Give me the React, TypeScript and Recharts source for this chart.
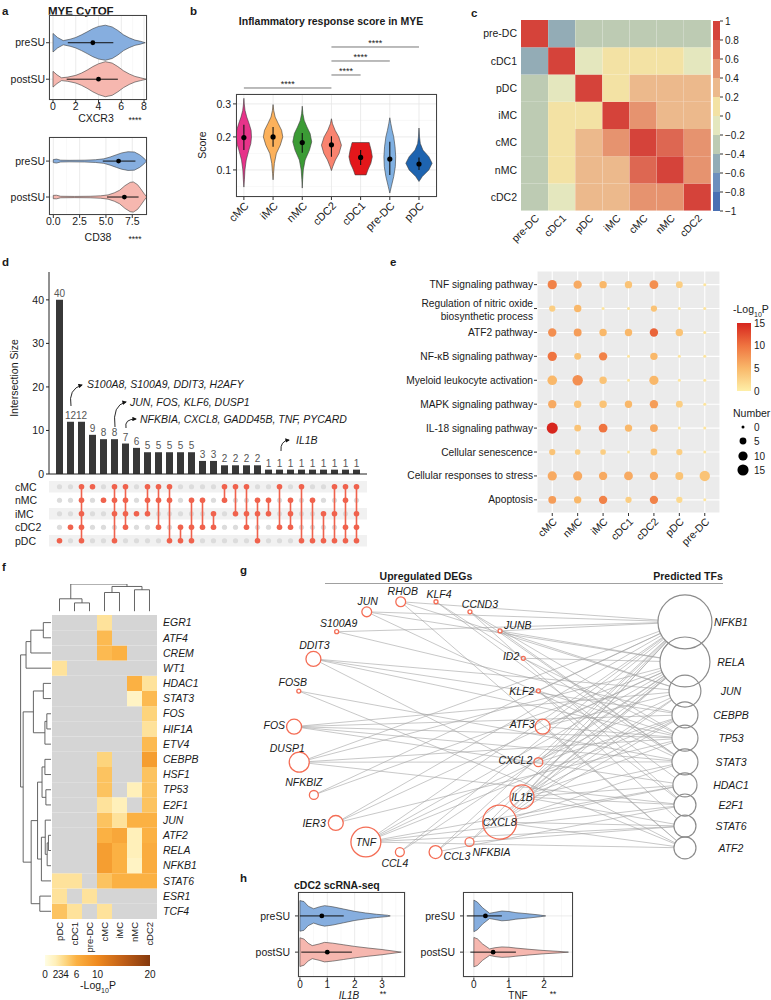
import React from "react";
import {
  Bar, BarChart, CartesianGrid, Cell, LabelList, ReferenceDot, ReferenceLine,
  Scatter, ScatterChart, XAxis, YAxis,
} from "recharts";

const FONT = '"Liberation Sans", Arial, Helvetica, sans-serif';
const INK = "#1a1a1a";
const BLUE = "#86AEDF";
const PINK = "#F6B7AF";

// ---------- a: MYE CyTOF (outline = [value, relative density]) ----------
const suGroups = ["postSU", "preSU"];
const cxcr3Ticks = [0, 2, 4, 6, 8];
const cxcr3Minor = [1, 3, 5, 7];
const cxcr3Pre = [[0, 0.53], [0.4, 0.3], [0.9, 0.12], [1.5, 0.2], [2, 0.3], [2.5, 0.45], [3, 0.62], [3.5, 0.8], [4, 0.93], [4.6, 1], [5.2, 0.9], [5.7, 0.7], [6.2, 0.45], [6.7, 0.28], [7.2, 0.15], [7.7, 0.08], [8.1, 0]];
const cxcr3Post = [[0, 0.45], [0.35, 0.25], [0.75, 0.08], [1.3, 0.12], [2, 0.22], [2.5, 0.35], [3, 0.52], [3.5, 0.72], [4, 0.88], [4.6, 1], [5.2, 0.92], [5.7, 0.72], [6.2, 0.48], [6.7, 0.3], [7.2, 0.16], [7.7, 0.08], [8.2, 0]];
const cxcr3Median = [4.0, 3.5];
const cxcr3Iqr = [[1.2, 5.7], [1.3, 5.3]];
const cd38Ticks = [0, 2.5, 5, 7.5];
const cd38Minor = [1.25, 3.75, 6.25];
const cd38Pre = [[0, 0.1], [0.3, 0.13], [0.7, 0.06], [1.5, 0.05], [3, 0.06], [4, 0.09], [4.8, 0.15], [5.4, 0.27], [6, 0.42], [6.5, 0.54], [7.1, 0.62], [7.7, 0.6], [8.2, 0.42], [8.6, 0.2], [8.85, 0]];
const cd38Post = [[0, 0.11], [0.3, 0.12], [0.7, 0.05], [2, 0.04], [3.5, 0.05], [4.5, 0.08], [5.2, 0.14], [5.8, 0.28], [6.3, 0.45], [6.8, 0.75], [7.3, 0.97], [7.6, 1], [8, 0.82], [8.3, 0.55], [8.6, 0.25], [8.88, 0]];
const cd38Median = [6.75, 6.2];
const cd38Iqr = [[5.1, 8.1], [4.7, 7.8]];

// ---------- b: inflammatory response score ----------
const scoreCells = ["cMC", "iMC", "nMC", "cDC2", "cDC1", "pre-DC", "pDC"];
const scoreColors = ["#E7338A", "#FCB15B", "#3B9B35", "#F9836F", "#E3171B", "#80B1E3", "#1E64B0"];
const scoreDens = [
  [[0.048, 0], [0.07, 0.04], [0.1, 0.08], [0.13, 0.18], [0.16, 0.38], [0.18, 0.53], [0.2, 0.58], [0.22, 0.55], [0.24, 0.4], [0.26, 0.22], [0.28, 0.09], [0.3, 0.03], [0.317, 0]],
  [[0.07, 0], [0.09, 0.04], [0.12, 0.1], [0.15, 0.25], [0.175, 0.55], [0.2, 0.74], [0.22, 0.65], [0.24, 0.4], [0.26, 0.16], [0.28, 0.05], [0.298, 0]],
  [[0.045, 0], [0.07, 0.03], [0.1, 0.08], [0.13, 0.22], [0.16, 0.55], [0.185, 0.72], [0.21, 0.6], [0.23, 0.36], [0.25, 0.15], [0.27, 0.05], [0.293, 0]],
  [[0.098, 0], [0.11, 0.1], [0.13, 0.3], [0.15, 0.58], [0.175, 0.76], [0.2, 0.56], [0.22, 0.28], [0.24, 0.08], [0.255, 0]],
  [[0.085, 0.42], [0.1, 0.55], [0.12, 0.78], [0.14, 0.89], [0.16, 0.8], [0.175, 0.7], [0.183, 0.65]],
  [[0.03, 0], [0.05, 0.12], [0.08, 0.3], [0.11, 0.42], [0.14, 0.45], [0.17, 0.4], [0.2, 0.3], [0.22, 0.18], [0.24, 0.08], [0.258, 0]],
  [[0.065, 0], [0.08, 0.25], [0.1, 0.75], [0.12, 1], [0.14, 0.75], [0.16, 0.3], [0.18, 0.1], [0.2, 0.04], [0.227, 0]],
];
const scoreMedian = [0.198, 0.2, 0.183, 0.176, 0.138, 0.133, 0.118];
const scoreIqr = [[0.16, 0.237], [0.17, 0.23], [0.152, 0.212], [0.14, 0.202], [0.115, 0.16], [0.085, 0.185], [0.1, 0.138]];
const scoreTicks = [0.1, 0.2, 0.3];
const scoreMinor = [0.05, 0.15, 0.25];
const scoreSig = [[0, 3, 0.3482], [3, 4, 0.3876], [3, 5, 0.43], [3, 6, 0.4724]];

// ---------- c: correlation ----------
const corrNames = ["pre-DC", "cDC1", "pDC", "iMC", "cMC", "nMC", "cDC2"];
const corr = [
  [1, -0.5, -0.3, -0.3, -0.3, -0.3, -0.3],
  [-0.5, 1, -0.1, 0.1, 0.1, 0.1, -0.1],
  [-0.3, -0.1, 1, 0.1, 0.3, 0.3, 0.3],
  [-0.3, 0.1, 0.1, 1, 0.5, 0.3, 0.3],
  [-0.3, 0.1, 0.3, 0.5, 1, 0.7, 0.5],
  [-0.3, 0.1, 0.3, 0.3, 0.7, 1, 0.5],
  [-0.3, -0.1, 0.3, 0.3, 0.5, 0.5, 1],
];
const corrTicks = [-1, -0.8, -0.6, -0.4, -0.2, 0, 0.2, 0.4, 0.6, 0.8, 1];
const corrBins = ["#4A70B3", "#6D8FBD", "#93ACB6", "#BDCBB3", "#E4E7BE", "#F3E2A4", "#ECB98C", "#E6936F", "#DD6752", "#D5433A"];

// ---------- d: upset ----------
const setNames = ["cMC", "nMC", "iMC", "cDC2", "pDC"];
const interSizes = [40, 12, 12, 9, 8, 8, 7, 6, 5, 5, 5, 5, 5, 3, 3, 2, 2, 2, 2, 1, 1, 1, 1, 1, 1, 1, 1, 1];
const interSets = [
  ["pDC"], ["cDC2"], ["cMC", "nMC", "iMC", "cDC2", "pDC"], ["cMC"], ["nMC"], ["cMC", "nMC", "iMC", "pDC"],
  ["cMC", "nMC", "iMC", "cDC2"], ["iMC"], ["cMC", "nMC", "iMC"], ["cMC", "nMC", "cDC2"], ["cMC", "nMC", "pDC"],
  ["cDC2", "pDC"], ["nMC", "cDC2", "pDC"], ["nMC", "cDC2"], ["iMC", "cDC2"], ["cMC", "nMC"], ["cMC", "iMC"],
  ["cMC", "iMC", "cDC2"], ["nMC", "iMC", "pDC"], ["nMC", "iMC"], ["cMC", "cDC2"], ["nMC", "iMC", "cDC2"],
  ["cMC", "pDC"], ["nMC", "pDC"], ["iMC", "pDC"], ["cMC", "iMC", "pDC"], ["cMC", "nMC", "cDC2", "pDC"], ["cMC", "iMC", "cDC2", "pDC"],
];
const geneNotes = [
  { text: "S100A8, S100A9, DDIT3, H2AFY", x: 87, y: 384 },
  { text: "JUN, FOS, KLF6, DUSP1", x: 130, y: 402 },
  { text: "NFKBIA, CXCL8, GADD45B, TNF, PYCARD", x: 140, y: 419 },
  { text: "IL1B", x: 296, y: 440 },
];

// ---------- e: enrichment ----------
const pathways = ["TNF signaling pathway", "Regulation of nitric oxide\nbiosynthetic process", "ATF2 pathway", "NF-κB signaling pathway", "Myeloid leukocyte activation", "MAPK signaling pathway", "IL-18 signaling pathway", "Cellular senescence", "Cellular responses to stress", "Apoptosis"];
const enrichCells = ["cMC", "nMC", "iMC", "cDC1", "cDC2", "pDC", "pre-DC"];
const enrichLogP = [
  [9, 6, 5, 4, 8, 3, 1], [3, 5, 1, 1, 4, 1, 1], [8, 7, 5, 5, 11, 4, 1], [10, 4, 9, 1, 5, 1, 1], [5, 8, 4, 1, 5, 1, 1],
  [6, 4, 4, 5, 7, 3, 1], [15, 4, 10, 5, 6, 1, 1], [4, 3, 3, 1, 4, 3, 1], [6, 6, 6, 6, 6, 4, 4], [7, 5, 9, 3, 9, 2, 1],
];
const enrichNum = [
  [10, 8, 6, 6, 9, 5, 0], [4, 6, 0, 0, 4, 0, 0], [8, 7, 6, 6, 8, 6, 0], [10, 5, 8, 0, 6, 0, 0], [11, 13, 6, 0, 10, 0, 0],
  [8, 6, 6, 6, 8, 5, 0], [15, 5, 9, 6, 7, 0, 0], [4, 3, 3, 0, 5, 4, 0], [10, 10, 8, 9, 8, 7, 13], [7, 6, 8, 4, 8, 4, 0],
];
const enrichStops: [number, string][] = [[0, "#FEEFA8"], [5, "#F9B86A"], [10, "#EF7440"], [15, "#D7261E"]];
const enrichLegendTicks = [0, 5, 10, 15];

// ---------- f: TF heatmap ----------
const tfRows = ["EGR1", "ATF4", "CREM", "WT1", "HDAC1", "STAT3", "FOS", "HIF1A", "ETV4", "CEBPB", "HSF1", "TP53", "E2F1", "JUN", "ATF2", "RELA", "NFKB1", "STAT6", "ESR1", "TCF4"];
const tfCols = ["pDC", "cDC1", "pre-DC", "cMC", "iMC", "nMC", "cDC2"];
const N = null;
const tfLogP = [
  [N, N, N, 3, N, N, N], [N, N, N, 5.5, N, N, N], [N, N, N, 5.5, 6, N, N], [3, N, N, N, N, N, N],
  [N, N, N, N, N, 6, 3], [N, N, N, N, N, 1.5, 5.5], [N, N, N, N, N, N, 4], [N, N, N, N, N, N, 3],
  [N, N, N, N, N, N, 5.5], [N, N, N, 4, N, N, 8], [N, N, N, 5, N, N, 5], [N, N, N, 5, N, 2, 5],
  [N, N, N, 3, 2, N, 5], [N, N, N, 5, 3, 6, 6], [N, N, N, 6, 7, 2, 6], [N, N, N, 8, 6, 2, 6.5],
  [N, N, N, 8, 6, 1.5, 6.5], [3, 3, N, 5, 6, 6, 6], [3, N, 3, N, N, N, N], [5, 3, N, 3, N, N, N],
];
const tfStops: [number, string][] = [[0, "#FFFDE3"], [2, "#FFF0BA"], [4, "#FDD47C"], [6, "#FBB143"], [10, "#EF8A1F"], [15, "#BF5E17"], [20, "#85390D"]];
const tfLegendTicks = [0, 2, 3, 4, 6, 10, 20];
const colMerges = [[1, 2, 0.31], [0, 7, 0.46], [3, 4, 0.69], [5, 6, 0.79], [9, 10, 0.91], [8, 11, 1.0]];
const rowMerges = [
  [0, 1, 0.24], [20, 2, 0.63], [21, 3, 0.78], [4, 5, 0.24], [6, 7, 0.13], [24, 8, 0.19], [23, 25, 0.55],
  [9, 10, 0.19], [11, 12, 0.16], [27, 28, 0.28], [14, 15, 0.08], [30, 16, 0.12], [13, 31, 0.18], [32, 17, 0.3],
  [29, 33, 0.42], [18, 19, 0.35], [34, 35, 0.62], [26, 36, 0.87], [22, 37, 0.95],
];

// ---------- g: network (layout units 0-100) ----------
const degNodes = [
  { id: "JUN", x: 22.5, y: 7.8, w: 6 }, { id: "RHOB", x: 30.4, y: 4.2, w: 6 }, { id: "KLF4", x: 38.6, y: 4.2, w: 1 },
  { id: "CCND3", x: 46.5, y: 7.8, w: 1 }, { id: "S100A9", x: 15.5, y: 14.9, w: 1 }, { id: "JUNB", x: 53.5, y: 14.6, w: 1 },
  { id: "DDIT3", x: 10.1, y: 24.6, w: 14 }, { id: "ID2", x: 58.9, y: 24.4, w: 1 }, { id: "FOSB", x: 6.7, y: 36.1, w: 1 },
  { id: "KLF2", x: 62.4, y: 36.0, w: 1 }, { id: "FOS", x: 5.6, y: 48.8, w: 14 }, { id: "ATF3", x: 63.4, y: 48.8, w: 14 },
  { id: "DUSP1", x: 6.8, y: 61.5, w: 25 }, { id: "CXCL2", x: 62.4, y: 61.5, w: 5 }, { id: "NFKBIZ", x: 10.2, y: 73.2, w: 5 },
  { id: "IL1B", x: 58.6, y: 73.9, w: 36 }, { id: "IER3", x: 15.3, y: 83.2, w: 14 }, { id: "CXCL8", x: 53.4, y: 82.9, w: 72 },
  { id: "TNF", x: 22.3, y: 90.0, w: 56 }, { id: "NFKBIA", x: 46.4, y: 90.0, w: 5 }, { id: "CCL4", x: 30.2, y: 93.6, w: 5 },
  { id: "CCL3", x: 38.5, y: 93.6, w: 10.5 },
];
const tfNodes = [
  { id: "NFKB1", x: 96.5, y: 11.4, w: 63 }, { id: "RELA", x: 96.5, y: 25.7, w: 54 }, { id: "JUN", x: 96.5, y: 36.1, w: 22 },
  { id: "CEBPB", x: 96.5, y: 44.6, w: 14.6 }, { id: "TP53", x: 96.5, y: 52.9, w: 14.6 }, { id: "STAT3", x: 96.5, y: 61.4, w: 14.6 },
  { id: "HDAC1", x: 96.5, y: 69.6, w: 12.5 }, { id: "E2F1", x: 96.5, y: 76.8, w: 10.5 }, { id: "STAT6", x: 96.5, y: 84.3, w: 10.5 },
  { id: "ATF2", x: 96.5, y: 92.1, w: 10.5 },
];
const gEdges: Record<string, string[]> = {
  JUN: ["NFKB1", "RELA", "STAT3"], RHOB: ["NFKB1", "JUN", "ATF2"], KLF4: ["STAT3", "HDAC1"], CCND3: ["E2F1", "STAT3", "TP53"],
  S100A9: ["NFKB1", "CEBPB"], JUNB: ["NFKB1", "RELA", "JUN", "STAT3"], DDIT3: ["CEBPB", "TP53", "ATF2", "JUN"], ID2: ["TP53", "RELA"],
  FOSB: ["ATF2", "STAT3"], KLF2: ["NFKB1", "TP53", "E2F1", "STAT6"], FOS: ["JUN", "TP53", "STAT3", "HDAC1", "CEBPB"],
  ATF3: ["NFKB1", "RELA", "ATF2", "TP53", "JUN"], DUSP1: ["NFKB1", "RELA", "TP53", "STAT3", "E2F1"], CXCL2: ["NFKB1", "RELA", "CEBPB"],
  NFKBIZ: ["NFKB1", "RELA"], IL1B: ["NFKB1", "RELA", "JUN", "CEBPB", "TP53", "STAT3", "HDAC1", "E2F1", "STAT6"],
  IER3: ["NFKB1", "RELA", "TP53"], CXCL8: ["NFKB1", "RELA", "JUN", "CEBPB", "STAT3", "HDAC1", "STAT6", "ATF2"],
  TNF: ["NFKB1", "RELA", "JUN", "CEBPB", "STAT6", "ATF2", "HDAC1", "E2F1"], CCL4: ["NFKB1", "RELA"], CCL3: ["NFKB1", "RELA", "E2F1"],
  NFKBIA: ["NFKB1", "RELA", "STAT6"],
};
// label placement (dx, dy, anchor) in px
const gLabel: Record<string, [number, number, string]> = {
  JUN: [1, -11, "middle"], RHOB: [2, -11, "middle"], KLF4: [3, -8, "middle"], CCND3: [10, -8, "middle"], S100A9: [2, -9, "middle"],
  JUNB: [4, -6, "start"], DDIT3: [1, -14, "middle"], ID2: [-4, -2, "end"], FOSB: [-6, -9, "middle"], KLF2: [-4, 0, "end"],
  FOS: [-9, -2, "end"], ATF3: [-8, -3, "end"], DUSP1: [-12, -14, "middle"], CXCL2: [-6, -2, "end"], NFKBIZ: [-10, -13, "middle"],
  IL1B: [0, 0, "middle"], IER3: [-10, 0, "end"], CXCL8: [0, 0, "middle"], TNF: [0, 0, "middle"], CCL4: [-5, 11, "middle"],
  CCL3: [8, 4, "start"], NFKBIA: [3, 10, "start"],
};

// ---------- h: cDC2 scRNA-seq ----------
const il1bPre = [[0, 0.94], [0.15, 0.88], [0.3, 0.6], [0.5, 0.44], [0.7, 0.55], [0.9, 0.63], [1.2, 0.56], [1.6, 0.42], [2, 0.28], [2.4, 0.18], [2.8, 0.1], [3.2, 0.04], [3.3, 0]];
const il1bPost = [[0, 0.88], [0.15, 0.8], [0.3, 0.55], [0.45, 0.4], [0.7, 0.5], [0.9, 0.6], [1.2, 0.55], [1.6, 0.45], [2, 0.35], [2.5, 0.25], [3, 0.16], [3.4, 0.07], [3.7, 0]];
const il1bMedian = [1.0, 0.8];
const il1bIqr = [[0.05, 1.9], [0, 1.6]];
const tnfPre = [[0, 0.97], [0.1, 0.85], [0.25, 0.5], [0.45, 0.16], [0.6, 0.22], [0.8, 0.3], [1.0, 0.27], [1.2, 0.2], [1.6, 0.12], [1.9, 0.05], [2.05, 0]];
const tnfPost = [[0, 0.9], [0.1, 0.82], [0.25, 0.5], [0.45, 0.2], [0.6, 0.27], [0.8, 0.32], [1.0, 0.3], [1.2, 0.25], [1.6, 0.17], [2.0, 0.1], [2.4, 0.05], [2.7, 0]];
const tnfMedian = [0.55, 0.33];
const tnfIqr = [[-0.1, 1.2], [-0.2, 0.8]];

// ---------- helpers ----------
type Pt = { x: number; y: number };
const Empty = () => <g />;
const pathOf = (pts: Pt[]) => pts.map((p, i) => `${i ? "L" : "M"}${p.x},${p.y}`).join("") + "Z";
const segsOf = (pts: Pt[]) => {
  let d = "";
  for (let i = 0; i + 1 < pts.length; i += 2) d += `M${pts[i].x},${pts[i].y}L${pts[i + 1].x},${pts[i + 1].y}`;
  return d;
};
const polyLine = (fill: string, stroke = "#3c3c3c", sw = 0.6) => (lp: any) => (
  <path d={pathOf(lp.points)} fill={fill} stroke={stroke} strokeWidth={sw} strokeLinejoin="round" />
);
const segLine = (stroke: string, sw: number) => (lp: any) => <path d={segsOf(lp.points)} fill="none" stroke={stroke} strokeWidth={sw} />;
const dotShape = (r: number, fill: string) => (p: any) => <circle cx={p.cx} cy={p.cy} r={r} fill={fill} />;
const hexRgb = (h: string) => [1, 3, 5].map((i) => parseInt(h.slice(i, i + 2), 16));
function ramp(stops: [number, string][], v: number) {
  if (v <= stops[0][0]) return stops[0][1];
  for (let i = 1; i < stops.length; i++) {
    if (v <= stops[i][0]) {
      const t = (v - stops[i - 1][0]) / (stops[i][0] - stops[i - 1][0]);
      const a = hexRgb(stops[i - 1][1]), b = hexRgb(stops[i][1]);
      return `rgb(${a.map((c, j) => Math.round(c + (b[j] - c) * t)).join(",")})`;
    }
  }
  return stops[stops.length - 1][1];
}
const corrColor = (v: number) => corrBins[Math.max(0, Math.min(9, Math.floor((v + 1) / 0.2 + 1e-9)))];
const fmtCorr = (v: number) => {
  const r = Math.round((v - 1) * 10) / 10;
  return r < 0 ? "\u2212" + Math.abs(r) : String(r);
};
function hOutline(dens: number[][], g: number, k: number): Pt[] {
  const top = dens.map(([v, d]) => ({ x: v, y: g + d * k }));
  const bot = dens.map(([v, d]) => ({ x: v, y: g - d * k })).reverse();
  return [...top, ...bot];
}
function vOutline(dens: number[][], c: number, k: number): Pt[] {
  const right = dens.map(([v, d]) => ({ x: c + d * k, y: v }));
  const left = dens.map(([v, d]) => ({ x: c - d * k, y: v })).reverse();
  return [...right, ...left];
}
function dendroSegs(merges: number[][], n: number, horiz: boolean): Pt[] {
  const pos: number[] = Array.from({ length: n }, (_, i) => i);
  const ht: number[] = Array(n).fill(0);
  const P = (p: number, h: number) => (horiz ? { x: h, y: p } : { x: p, y: h });
  const pts: Pt[] = [];
  merges.forEach(([a, b, h]) => {
    pts.push(P(pos[a], ht[a]), P(pos[a], h), P(pos[b], ht[b]), P(pos[b], h), P(pos[a], h), P(pos[b], h));
    pos.push((pos[a] + pos[b]) / 2);
    ht.push(h);
  });
  return pts;
}
const RotTick = (p: any) => {
  const label = p.labels ? p.labels[p.payload.value] : p.payload.value;
  return (
    <text x={p.x} y={p.y} dy="0.71em" textAnchor="end" fontSize={p.fs || 10.5} fill={INK} transform={`rotate(-45 ${p.x} ${p.y})`}>
      {label}
    </text>
  );
};

function T({ x, y, children, size = 10.5, bold = false, italic = false, anchor = "start", rotate = 0, color = INK }: any) {
  const tx = anchor === "middle" ? "-50%" : anchor === "end" ? "-100%" : "0";
  return (
    <div style={{
      position: "absolute", left: x, top: y, transform: `translate(${tx}, -50%)${rotate ? ` rotate(${rotate}deg)` : ""}`,
      fontSize: size, fontWeight: bold ? 700 : 400, fontStyle: italic ? "italic" : "normal", color, whiteSpace: "nowrap", lineHeight: 1,
    }}>{children}</div>
  );
}
const Frame = ({ left, top, w, h, color = "#444" }: any) => (
  <div style={{ position: "absolute", left, top, width: w, height: h, border: `1px solid ${color}`, boxSizing: "border-box", pointerEvents: "none" }} />
);

// ---------- horizontal violin panels (a, h) ----------
function HViolins(p: any) {
  const mt = 2, mr = 2, xh = 16;
  return (
    <div style={{ position: "absolute", left: p.x0 - p.axisW, top: p.y0 - mt }}>
      <ScatterChart width={p.axisW + p.w + mr} height={mt + p.h + xh} margin={{ top: mt, right: mr, bottom: 0, left: 0 }}>
        <XAxis xAxisId="minor" type="number" dataKey="x" domain={p.xDomain} ticks={p.xMinor} allowDataOverflow hide />
        <CartesianGrid xAxisId="minor" horizontal={false} stroke="#F3F3F3" strokeWidth={0.6} />
        <CartesianGrid stroke="#E6E6E6" strokeWidth={0.8} />
        <XAxis type="number" dataKey="x" domain={p.xDomain} ticks={p.xTicks} interval={0} allowDataOverflow tickFormatter={p.xFmt}
          height={xh} axisLine={false} tickSize={3} tickMargin={0} tickLine={{ stroke: "#333" }} tick={{ fontSize: p.xFs || 10.5, fill: INK }} />
        <YAxis type="number" dataKey="y" domain={p.yDomain} ticks={[1, 2]} interval={0} allowDataOverflow tickFormatter={(v: number) => suGroups[v - 1]}
          width={p.axisW} axisLine={false} tickSize={3} tickMargin={p.tickGap} tickLine={{ stroke: "#333" }} tick={{ fontSize: 10.5, fill: INK }} />
        {p.dens.map((d: number[][], i: number) => (
          <Scatter key={"v" + i} data={hOutline(d, i + 1, p.k)} shape={Empty} line={polyLine([PINK, BLUE][i])} isAnimationActive={false} />
        ))}
        {p.iqr.map(([lo, hi]: number[], i: number) => (
          <Scatter key={"q" + i} data={[{ x: lo, y: i + 1 }, { x: hi, y: i + 1 }]} shape={Empty} line={segLine("#111", 1)} isAnimationActive={false} />
        ))}
        <Scatter data={p.median.map((m: number, i: number) => ({ x: m, y: i + 1 }))} shape={dotShape(2.4, "#000")} isAnimationActive={false} />
      </ScatterChart>
      <Frame left={p.axisW} top={mt} w={p.w} h={p.h} />
    </div>
  );
}

// ---------- b ----------
function ScorePanel() {
  const x0 = 236, y0 = 94, w = 201, h = 103, aw = 30, mt = 59, mr = 5, xh = 42, k = 0.45;
  const xDom = [-0.27, 6.617], yDom = [0.018, 0.33];
  return (
    <div style={{ position: "absolute", left: x0 - aw, top: y0 - mt }}>
      <ScatterChart width={aw + w + mr} height={mt + h + xh} margin={{ top: mt, right: mr, bottom: 0, left: 0 }}>
        <YAxis yAxisId="minor" type="number" dataKey="y" domain={yDom} ticks={scoreMinor} allowDataOverflow hide />
        <CartesianGrid yAxisId="minor" vertical={false} stroke="#F3F3F3" strokeWidth={0.6} />
        <CartesianGrid stroke="#E6E6E6" strokeWidth={0.8} />
        <XAxis type="number" dataKey="x" domain={xDom} ticks={scoreCells.map((_, i) => i)} interval={0} allowDataOverflow height={xh}
          axisLine={false} tickSize={3} tickMargin={1} tickLine={{ stroke: "#333" }} tick={(tp: any) => <RotTick {...tp} labels={scoreCells} fs={11} />} />
        <YAxis type="number" dataKey="y" domain={yDom} ticks={scoreTicks} interval={0} allowDataOverflow width={aw}
          axisLine={false} tickSize={3} tickMargin={2} tickLine={{ stroke: "#333" }} tick={{ fontSize: 10.5, fill: INK }} />
        {scoreDens.map((d, i) => (
          <Scatter key={"v" + i} data={vOutline(d, i, k)} shape={Empty} line={polyLine(scoreColors[i])} isAnimationActive={false} />
        ))}
        <Scatter data={scoreIqr.flatMap(([lo, hi], i) => [{ x: i, y: lo }, { x: i, y: hi }])} shape={Empty} line={segLine("#111", 1.1)} isAnimationActive={false} />
        <Scatter data={scoreMedian.map((m, i) => ({ x: i, y: m }))} shape={dotShape(2.6, "#000")} isAnimationActive={false} />
        {scoreSig.map(([a, b, y], i) => (
          <ReferenceLine key={"s" + i} segment={[{ x: a, y }, { x: b, y }]} stroke="#777" strokeWidth={1} ifOverflow="visible" />
        ))}
        {scoreSig.map(([a, b, y], i) => (
          <ReferenceDot key={"t" + i} x={(a + b) / 2} y={y} r={0} fill="none" stroke="none" ifOverflow="visible"
            label={{ value: "****", position: "top", offset: 1, fontSize: 9, fill: INK }} />
        ))}
      </ScatterChart>
      <Frame left={aw} top={mt} w={w} h={h} />
    </div>
  );
}

// ---------- c ----------
function CorrPanel() {
  const x0 = 520.7, y0 = 20, w = 190, h = 190.7, aw = 40, mt = 2, xh = 40;
  const data = corrNames.map((n) => {
    const o: any = { col: n };
    corrNames.forEach((_, j) => (o["r" + j] = 1));
    return o;
  });
  return (
    <div style={{ position: "absolute", left: x0 - aw, top: y0 - mt }}>
      <BarChart width={aw + w} height={mt + h + xh} data={data} margin={{ top: mt, right: 0, bottom: 0, left: 0 }} barCategoryGap={0} barGap={0}>
        <XAxis dataKey="col" interval={0} height={xh} axisLine={false} tickLine={false} tickSize={0} tickMargin={3}
          tick={(tp: any) => <RotTick {...tp} fs={10.5} />} />
        <YAxis type="number" domain={[0, 7]} allowDataOverflow ticks={corrNames.map((_, j) => j + 0.5)} interval={0} width={aw}
          axisLine={false} tickLine={false} tickSize={0} tickMargin={4} tickFormatter={(v: number) => corrNames[6 - Math.floor(v)]}
          tick={{ fontSize: 10.5, fill: INK }} />
        {corrNames.map((_, j) => (
          <Bar key={j} dataKey={"r" + j} stackId="c" isAnimationActive={false}>
            {corrNames.map((__, ci) => <Cell key={ci} fill={corrColor(corr[6 - j][ci])} />)}
          </Bar>
        ))}
      </BarChart>
    </div>
  );
}
function CorrBar() {
  const x0 = 713.3, y0 = 20.7, w = 7, h = 190, aw = 34, mt = 6;
  const row: any = { k: "cb" };
  corrBins.forEach((_, i) => (row["b" + i] = corrTicks[i + 1] - corrTicks[i]));
  return (
    <div style={{ position: "absolute", left: x0, top: y0 - mt }}>
      <BarChart width={w + aw} height={mt + h + 6} data={[row]} margin={{ top: mt, right: 0, bottom: 6, left: 0 }} barCategoryGap={0}>
        <XAxis dataKey="k" hide />
        <YAxis orientation="right" type="number" domain={[0, 2]} allowDataOverflow ticks={corrTicks.map((t) => t + 1)} interval={0}
          width={aw} axisLine={false} tickSize={3} tickMargin={2} tickLine={{ stroke: "#333" }} tickFormatter={fmtCorr}
          tick={{ fontSize: 10, fill: INK }} />
        {corrBins.map((c, i) => <Bar key={i} dataKey={"b" + i} stackId="cb" fill={c} isAnimationActive={false} />)}
      </BarChart>
    </div>
  );
}

// ---------- d ----------
function UpsetPanel() {
  const barData = interSizes.map((n, i) => ({ k: i, n }));
  const cells: any[] = [];
  const hits: any[] = [];
  const links: Pt[] = [];
  interSets.forEach((s, i) => {
    setNames.forEach((nm, r) => cells.push({ x: i, y: 4 - r }));
    const ys = s.map((nm) => 4 - setNames.indexOf(nm));
    ys.forEach((y) => hits.push({ x: i, y }));
    if (ys.length > 1) links.push({ x: i, y: Math.min(...ys) }, { x: i, y: Math.max(...ys) });
  });
  const xDom = [-0.955, 27.955];
  const bandRows = [4, 2, 0];
  return (
    <>
      <div style={{ position: "absolute", left: 19, top: 262 }}>
        <BarChart width={30 + 318 + 5} height={10 + 202 + 10} data={barData} margin={{ top: 10, right: 5, bottom: 8, left: 0 }} barCategoryGap={0}>
          <XAxis dataKey="k" tick={false} tickLine={false} axisLine={{ stroke: "#222" }} height={2} padding={{ left: 5, right: 5 }} />
          <YAxis type="number" domain={[0, 46.4]} allowDataOverflow ticks={[0, 10, 20, 30, 40]} interval={0} width={30}
            axisLine={{ stroke: "#222" }} tickSize={3} tickMargin={2} tickLine={{ stroke: "#222" }} tick={{ fontSize: 10.5, fill: INK }} />
          <Bar dataKey="n" fill="#383838" barSize={7} isAnimationActive={false}>
            <LabelList dataKey="n" position="top" offset={3} fontSize={10} fill="#555" />
          </Bar>
        </BarChart>
      </div>
      <div style={{ position: "absolute", left: 0, top: 479.75 }}>
        <ScatterChart width={49 + 318 + 5} height={67.5} margin={{ top: 0, right: 5, bottom: 0, left: 0 }}>
          <XAxis type="number" dataKey="x" domain={xDom} allowDataOverflow hide />
          <YAxis type="number" dataKey="y" domain={[-0.5, 4.5]} allowDataOverflow ticks={[0, 1, 2, 3, 4]} interval={0} width={49}
            axisLine={false} tickLine={false}
            tick={(tp: any) => <text x={15} y={tp.y} dominantBaseline="central" fontSize={10.5} fill={INK}>{setNames[4 - tp.payload.value]}</text>} />
          {bandRows.map((r) => (
            <Scatter key={"b" + r} data={[{ x: xDom[0], y: r - 0.42 }, { x: xDom[1], y: r - 0.42 }, { x: xDom[1], y: r + 0.42 }, { x: xDom[0], y: r + 0.42 }]}
              shape={Empty} line={polyLine("#F1F1F1", "none", 0)} isAnimationActive={false} />
          ))}
          <Scatter data={cells} shape={dotShape(2.6, "#DCDCDC")} isAnimationActive={false} />
          <Scatter data={links} shape={Empty} line={segLine("#F0624D", 1.6)} isAnimationActive={false} />
          <Scatter data={hits} shape={dotShape(2.8, "#F0624D")} isAnimationActive={false} />
        </ScatterChart>
      </div>
      {geneNotes.map((g) => <T key={g.text} x={g.x} y={g.y} italic size={10.5}>{g.text}</T>)}
      <svg width={771} height={1000} style={{ position: "absolute", left: 0, top: 0, pointerEvents: "none" }}>
        <defs>
          <marker id="ah" viewBox="0 0 10 10" refX="8" refY="5" markerWidth="5" markerHeight="5" orient="auto">
            <path d="M0,0L10,5L0,10z" fill="#111" />
          </marker>
        </defs>
        {["M71,406 Q68,389 82,385", "M115,427 Q112,405 126,402", "M126,428 Q124,419 136,419", "M281,451 Q280,441 289,440"].map((d, i) => (
          <path key={i} d={d} fill="none" stroke="#111" strokeWidth={0.9} markerEnd="url(#ah)" />
        ))}
      </svg>
      <T x={14} y={378} rotate={-90} anchor="middle">Intersection Size</T>
    </>
  );
}

// ---------- e ----------
const rNum = (n: number) => Math.sqrt(2.25 + 1.9 * n);
function EnrichPanel() {
  const data: any[] = [];
  enrichLogP.forEach((row, r) => row.forEach((p, c) => data.push({ x: c, y: r, p, n: enrichNum[r][c] })));
  const PathTick = (tp: any) => {
    const lines = pathways[tp.payload.value].split("\n");
    if (lines.length === 1)
      return <text x={tp.x} y={tp.y} textAnchor="end" dominantBaseline="central" fontSize={10.2} fill={INK}>{lines[0]}</text>;
    return (
      <text x={tp.x} textAnchor="end" fontSize={10.2} fill={INK}>
        <tspan x={tp.x} y={tp.y - 5.5} dominantBaseline="central">{lines[0]}</tspan>
        <tspan x={tp.x} y={tp.y + 7.5} dominantBaseline="central">{lines[1]}</tspan>
      </text>
    );
  };
  return (
    <div style={{ position: "absolute", left: 537 - 137, top: 271 - 2 }}>
      <ScatterChart width={137 + 183 + 2} height={2 + 242 + 44} margin={{ top: 2, right: 2, bottom: 0, left: 0 }}>
        <CartesianGrid fill="#EBEBEB" stroke="#fff" strokeWidth={1.1} />
        <XAxis type="number" dataKey="x" domain={[-0.6, 6.6]} allowDataOverflow ticks={enrichCells.map((_, i) => i)} interval={0} height={44}
          axisLine={false} tickSize={3} tickMargin={1} tickLine={{ stroke: "#333" }} tick={(tp: any) => <RotTick {...tp} labels={enrichCells} />} />
        <YAxis type="number" dataKey="y" domain={[-0.57, 9.55]} reversed allowDataOverflow ticks={pathways.map((_, i) => i)} interval={0} width={137}
          axisLine={false} tickSize={3} tickMargin={1} tickLine={{ stroke: "#333" }} tick={PathTick} />
        <Scatter data={data} isAnimationActive={false}
          shape={(sp: any) => <circle cx={sp.cx} cy={sp.cy} r={rNum(sp.payload.n)} fill={ramp(enrichStops, sp.payload.p)} />} />
      </ScatterChart>
    </div>
  );
}
function EnrichLegend() {
  const top = 323, bottom = 391;
  const toY = (v: number) => bottom - (v / 15) * (bottom - top);
  const numY = [427, 441, 456, 470];
  return (
    <>
      <T x={733} y={311} size={10.5}>-Log<sub style={{ fontSize: 7 }}>10</sub>P</T>
      <svg width={40} height={180} style={{ position: "absolute", left: 731, top: 315 }}>
        <defs>
          <linearGradient id="eg" x1="0" y1="1" x2="0" y2="0">
            {enrichStops.map(([v, c]) => <stop key={v} offset={v / 15} stopColor={c} />)}
          </linearGradient>
        </defs>
        <rect x={6} y={top - 315} width={14} height={bottom - top} fill="url(#eg)" />
        {enrichLegendTicks.map((v) => <text key={v} x={23} y={toY(v) - 315} dominantBaseline="central" fontSize={10} fill={INK}>{v}</text>)}
        {enrichLegendTicks.map((v, i) => <circle key={"c" + v} cx={12} cy={numY[i] - 315} r={rNum(v)} fill="#000" />)}
        {enrichLegendTicks.map((v, i) => <text key={"t" + v} x={23} y={numY[i] - 315} dominantBaseline="central" fontSize={10} fill={INK}>{v}</text>)}
      </svg>
      <T x={733} y={413} size={10.5}>Number</T>
    </>
  );
}

// ---------- f ----------
function TfPanel() {
  const data = tfCols.map((c) => {
    const o: any = { col: c };
    tfRows.forEach((_, j) => (o["r" + j] = 1));
    return o;
  });
  const nR = tfRows.length;
  return (
    <>
      <svg width={180} height={40} style={{ position: "absolute", left: 0, top: 948 }}>
        <defs>
          <linearGradient id="fg" x1="0" y1="0" x2="1" y2="0">
            {tfStops.map(([v, c]) => <stop key={v} offset={v / 20} stopColor={c} />)}
          </linearGradient>
        </defs>
        <rect x={45} y={7} width={105} height={11} fill="url(#fg)" />
        {tfLegendTicks.map((v) => (
          <text key={v} x={45 + v * 5.25} y={26} textAnchor="middle" dominantBaseline="central" fontSize={10} fill={INK}>{v}</text>
        ))}
      </svg>
      <T x={98} y={987} anchor="middle" size={10.5}>-Log<sub style={{ fontSize: 7 }}>10</sub>P</T>
      <div style={{ position: "absolute", left: 52, top: 614.7 - 2 }}>
        <BarChart width={105 + 58} height={2 + 303.9 + 36} data={data} margin={{ top: 2, right: 0, bottom: 0, left: 0 }} barCategoryGap={0} barGap={0}>
          <XAxis dataKey="col" interval={0} height={36} axisLine={false} tickLine={false} tickSize={0} tickMargin={3}
            tick={(tp: any) => (
              <text x={tp.x} y={tp.y} textAnchor="end" dominantBaseline="central" fontSize={9.5} fill={INK} transform={`rotate(-90 ${tp.x} ${tp.y})`}>
                {tp.payload.value}
              </text>
            )} />
          <YAxis orientation="right" type="number" domain={[0, nR]} allowDataOverflow ticks={tfRows.map((_, j) => j + 0.5)} interval={0} width={58}
            axisLine={false} tickLine={false} tickSize={0} tickMargin={6} tickFormatter={(v: number) => tfRows[nR - 1 - Math.floor(v)]}
            tick={{ fontSize: 10.5, fill: INK, fontStyle: "italic" }} />
          {tfRows.map((_, j) => (
            <Bar key={j} dataKey={"r" + j} stackId="f" isAnimationActive={false}>
              {tfCols.map((__, ci) => {
                const v = tfLogP[nR - 1 - j][ci];
                return <Cell key={ci} fill={v == null ? "#D5D5D5" : ramp(tfStops, v)} />;
              })}
            </Bar>
          ))}
        </BarChart>
      </div>
      <div style={{ position: "absolute", left: 52, top: 584.3 }}>
        <ScatterChart width={105} height={27.4} margin={{ top: 0, right: 0, bottom: 0, left: 0 }}>
          <XAxis type="number" dataKey="x" domain={[-0.5, 6.5]} allowDataOverflow hide />
          <YAxis type="number" dataKey="y" domain={[0, 1]} allowDataOverflow hide />
          <Scatter data={dendroSegs(colMerges, tfCols.length, false)} shape={Empty} line={segLine("#555", 0.9)} isAnimationActive={false} />
        </ScatterChart>
      </div>
      <div style={{ position: "absolute", left: 19, top: 614.7 }}>
        <ScatterChart width={32} height={303.9} margin={{ top: 0, right: 0, bottom: 0, left: 0 }}>
          <XAxis type="number" dataKey="x" domain={[0, 1]} reversed allowDataOverflow hide />
          <YAxis type="number" dataKey="y" domain={[-0.5, nR - 0.5]} reversed allowDataOverflow hide />
          <Scatter data={dendroSegs(rowMerges, nR, true)} shape={Empty} line={segLine("#555", 0.9)} isAnimationActive={false} />
        </ScatterChart>
      </div>
    </>
  );
}

// ---------- g ----------
const rDeg = (w: number) => 2 * Math.sqrt(w);
const rTf = (w: number) => 3.4 * Math.sqrt(w);
function NetworkPanel() {
  const ml = 35, mt = 15, mr = 71, mb = 10, w = 430, h = 280;
  const tfMap: any = Object.fromEntries(tfNodes.map((n) => [n.id, n]));
  const pts: Pt[] = [];
  const radii: number[] = [];
  degNodes.forEach((d) => (gEdges[d.id] || []).forEach((t) => {
    const tf = tfMap[t];
    pts.push({ x: d.x, y: d.y }, { x: tf.x, y: tf.y });
    radii.push(rDeg(d.w), rTf(tf.w));
  }));
  const edgeLine = (lp: any) => {
    let d = "";
    const P = lp.points;
    for (let i = 0; i + 1 < P.length; i += 2) {
      const a = P[i], b = P[i + 1];
      const L = Math.hypot(b.x - a.x, b.y - a.y) || 1;
      const ux = (b.x - a.x) / L, uy = (b.y - a.y) / L;
      d += `M${a.x + ux * radii[i]},${a.y + uy * radii[i]}L${b.x - ux * radii[i + 1]},${b.y - uy * radii[i + 1]}`;
    }
    return <path d={d} fill="none" stroke="#A3A3A3" strokeWidth={0.6} />;
  };
  const DegShape = (sp: any) => {
    const n = sp.payload;
    const [dx, dy, anchor] = gLabel[n.id];
    return (
      <g>
        <circle cx={sp.cx} cy={sp.cy} r={rDeg(n.w)} fill="none" stroke="#F46D55" strokeWidth={1.3} />
        <text x={sp.cx + dx} y={sp.cy + dy} textAnchor={anchor} dominantBaseline="central" fontSize={10.5} fontStyle="italic" fill={INK}>{n.id}</text>
      </g>
    );
  };
  const TfShape = (sp: any) => (
    <g>
      <circle cx={sp.cx} cy={sp.cy} r={rTf(sp.payload.w)} fill="none" stroke="#8C8C8C" strokeWidth={1.2} />
      <text x={sp.cx + 46} y={sp.cy} textAnchor="middle" dominantBaseline="central" fontSize={10.5} fontStyle="italic" fill={INK}>{sp.payload.id}</text>
    </g>
  );
  return (
    <>
      <div style={{ position: "absolute", left: 270 - ml, top: 590 - mt }}>
        <ScatterChart width={ml + w + mr} height={mt + h + mb} margin={{ top: mt, right: mr, bottom: mb, left: ml }}>
          <XAxis type="number" dataKey="x" domain={[0, 100]} hide />
          <YAxis type="number" dataKey="y" domain={[0, 100]} reversed hide />
          <Scatter data={pts} shape={Empty} line={edgeLine} isAnimationActive={false} />
          <Scatter data={degNodes} shape={DegShape} isAnimationActive={false} />
          <Scatter data={tfNodes} shape={TfShape} isAnimationActive={false} />
        </ScatterChart>
      </div>
      <T x={426} y={576} bold anchor="middle">Upregulated DEGs</T>
      <T x={688} y={576} bold anchor="middle">Predicted TFs</T>
      <div style={{ position: "absolute", left: 325, top: 582.5, width: 398, height: 1, background: "#A0A0A0" }} />
    </>
  );
}

export default function App() {
  return (
    <div style={{ position: "absolute", left: 0, top: 0, width: 771, height: 1000, background: "#fff", fontFamily: FONT, color: INK, overflow: "hidden" }}>
      {/* panel letters */}
      <T x={2} y={12} bold size={11.5}>a</T>
      <T x={190} y={12} bold size={11.5}>b</T>
      <T x={471} y={14} bold size={11.5}>c</T>
      <T x={2} y={263} bold size={11.5}>d</T>
      <T x={390} y={263} bold size={11.5}>e</T>
      <T x={2} y={568} bold size={11.5}>f</T>
      <T x={240} y={571} bold size={11.5}>g</T>
      <T x={240} y={879} bold size={11.5}>h</T>

      {/* a */}
      <T x={48} y={12} bold size={11.5}>MYE CyTOF</T>
      <HViolins x0={49} y0={15} w={98} h={85} axisW={49} tickGap={1} xDomain={[-0.352, 8.26]} xTicks={cxcr3Ticks} xMinor={cxcr3Minor}
        yDomain={[0.43, 2.76]} k={0.48} dens={[cxcr3Post, cxcr3Pre]} median={cxcr3Median} iqr={cxcr3Iqr} />
      <T x={96} y={118} anchor="middle">CXCR3</T>
      <T x={135} y={120} anchor="middle" size={8.5}>****</T>
      <HViolins x0={49} y0={137} w={98} h={78} axisW={49} tickGap={1} xDomain={[-0.41, 8.9]} xTicks={cd38Ticks} xMinor={cd38Minor}
        yDomain={[0.5, 2.67]} k={0.42} dens={[cd38Post, cd38Pre]} median={cd38Median} iqr={cd38Iqr} xFmt={(v: number) => v.toFixed(1)} />
      <T x={98} y={237} anchor="middle">CD38</T>
      <T x={135} y={239} anchor="middle" size={8.5}>****</T>

      {/* b */}
      <T x={331} y={21} bold anchor="middle">Inflammatory response score in MYE</T>
      <ScorePanel />
      <T x={202} y={145} anchor="middle" rotate={-90}>Score</T>

      {/* c */}
      <CorrPanel />
      <CorrBar />

      {/* d */}
      <UpsetPanel />

      {/* e */}
      <EnrichPanel />
      <EnrichLegend />

      {/* f */}
      <TfPanel />

      {/* g */}
      <NetworkPanel />

      {/* h */}
      <T x={294} y={885} bold>cDC2 scRNA-seq</T>
      <HViolins x0={297.7} y0={891.7} w={107.6} h={85.5} axisW={45} tickGap={5} xFs={10} xDomain={[-0.07, 3.86]} xTicks={[0, 1, 2, 3]} xMinor={[0.5, 1.5, 2.5, 3.5]}
        yDomain={[0.3, 2.66]} k={0.45} dens={[il1bPost, il1bPre]} median={il1bMedian} iqr={il1bIqr} />
      <T x={349} y={995.5} anchor="middle" italic size={10}>IL1B</T>
      <T x={383} y={994} anchor="middle" size={8.5}>**</T>
      <HViolins x0={463} y0={891.7} w={110} h={85.5} axisW={45} tickGap={5} xFs={10} xDomain={[-0.31, 2.83]} xTicks={[0, 1, 2]} xMinor={[0.5, 1.5, 2.5]}
        yDomain={[0.3, 2.66]} k={0.45} dens={[tnfPost, tnfPre]} median={tnfMedian} iqr={tnfIqr} />
      <T x={518} y={995.5} anchor="middle" size={10}>TNF</T>
      <T x={553} y={994} anchor="middle" size={8.5}>**</T>
    </div>
  );
}
